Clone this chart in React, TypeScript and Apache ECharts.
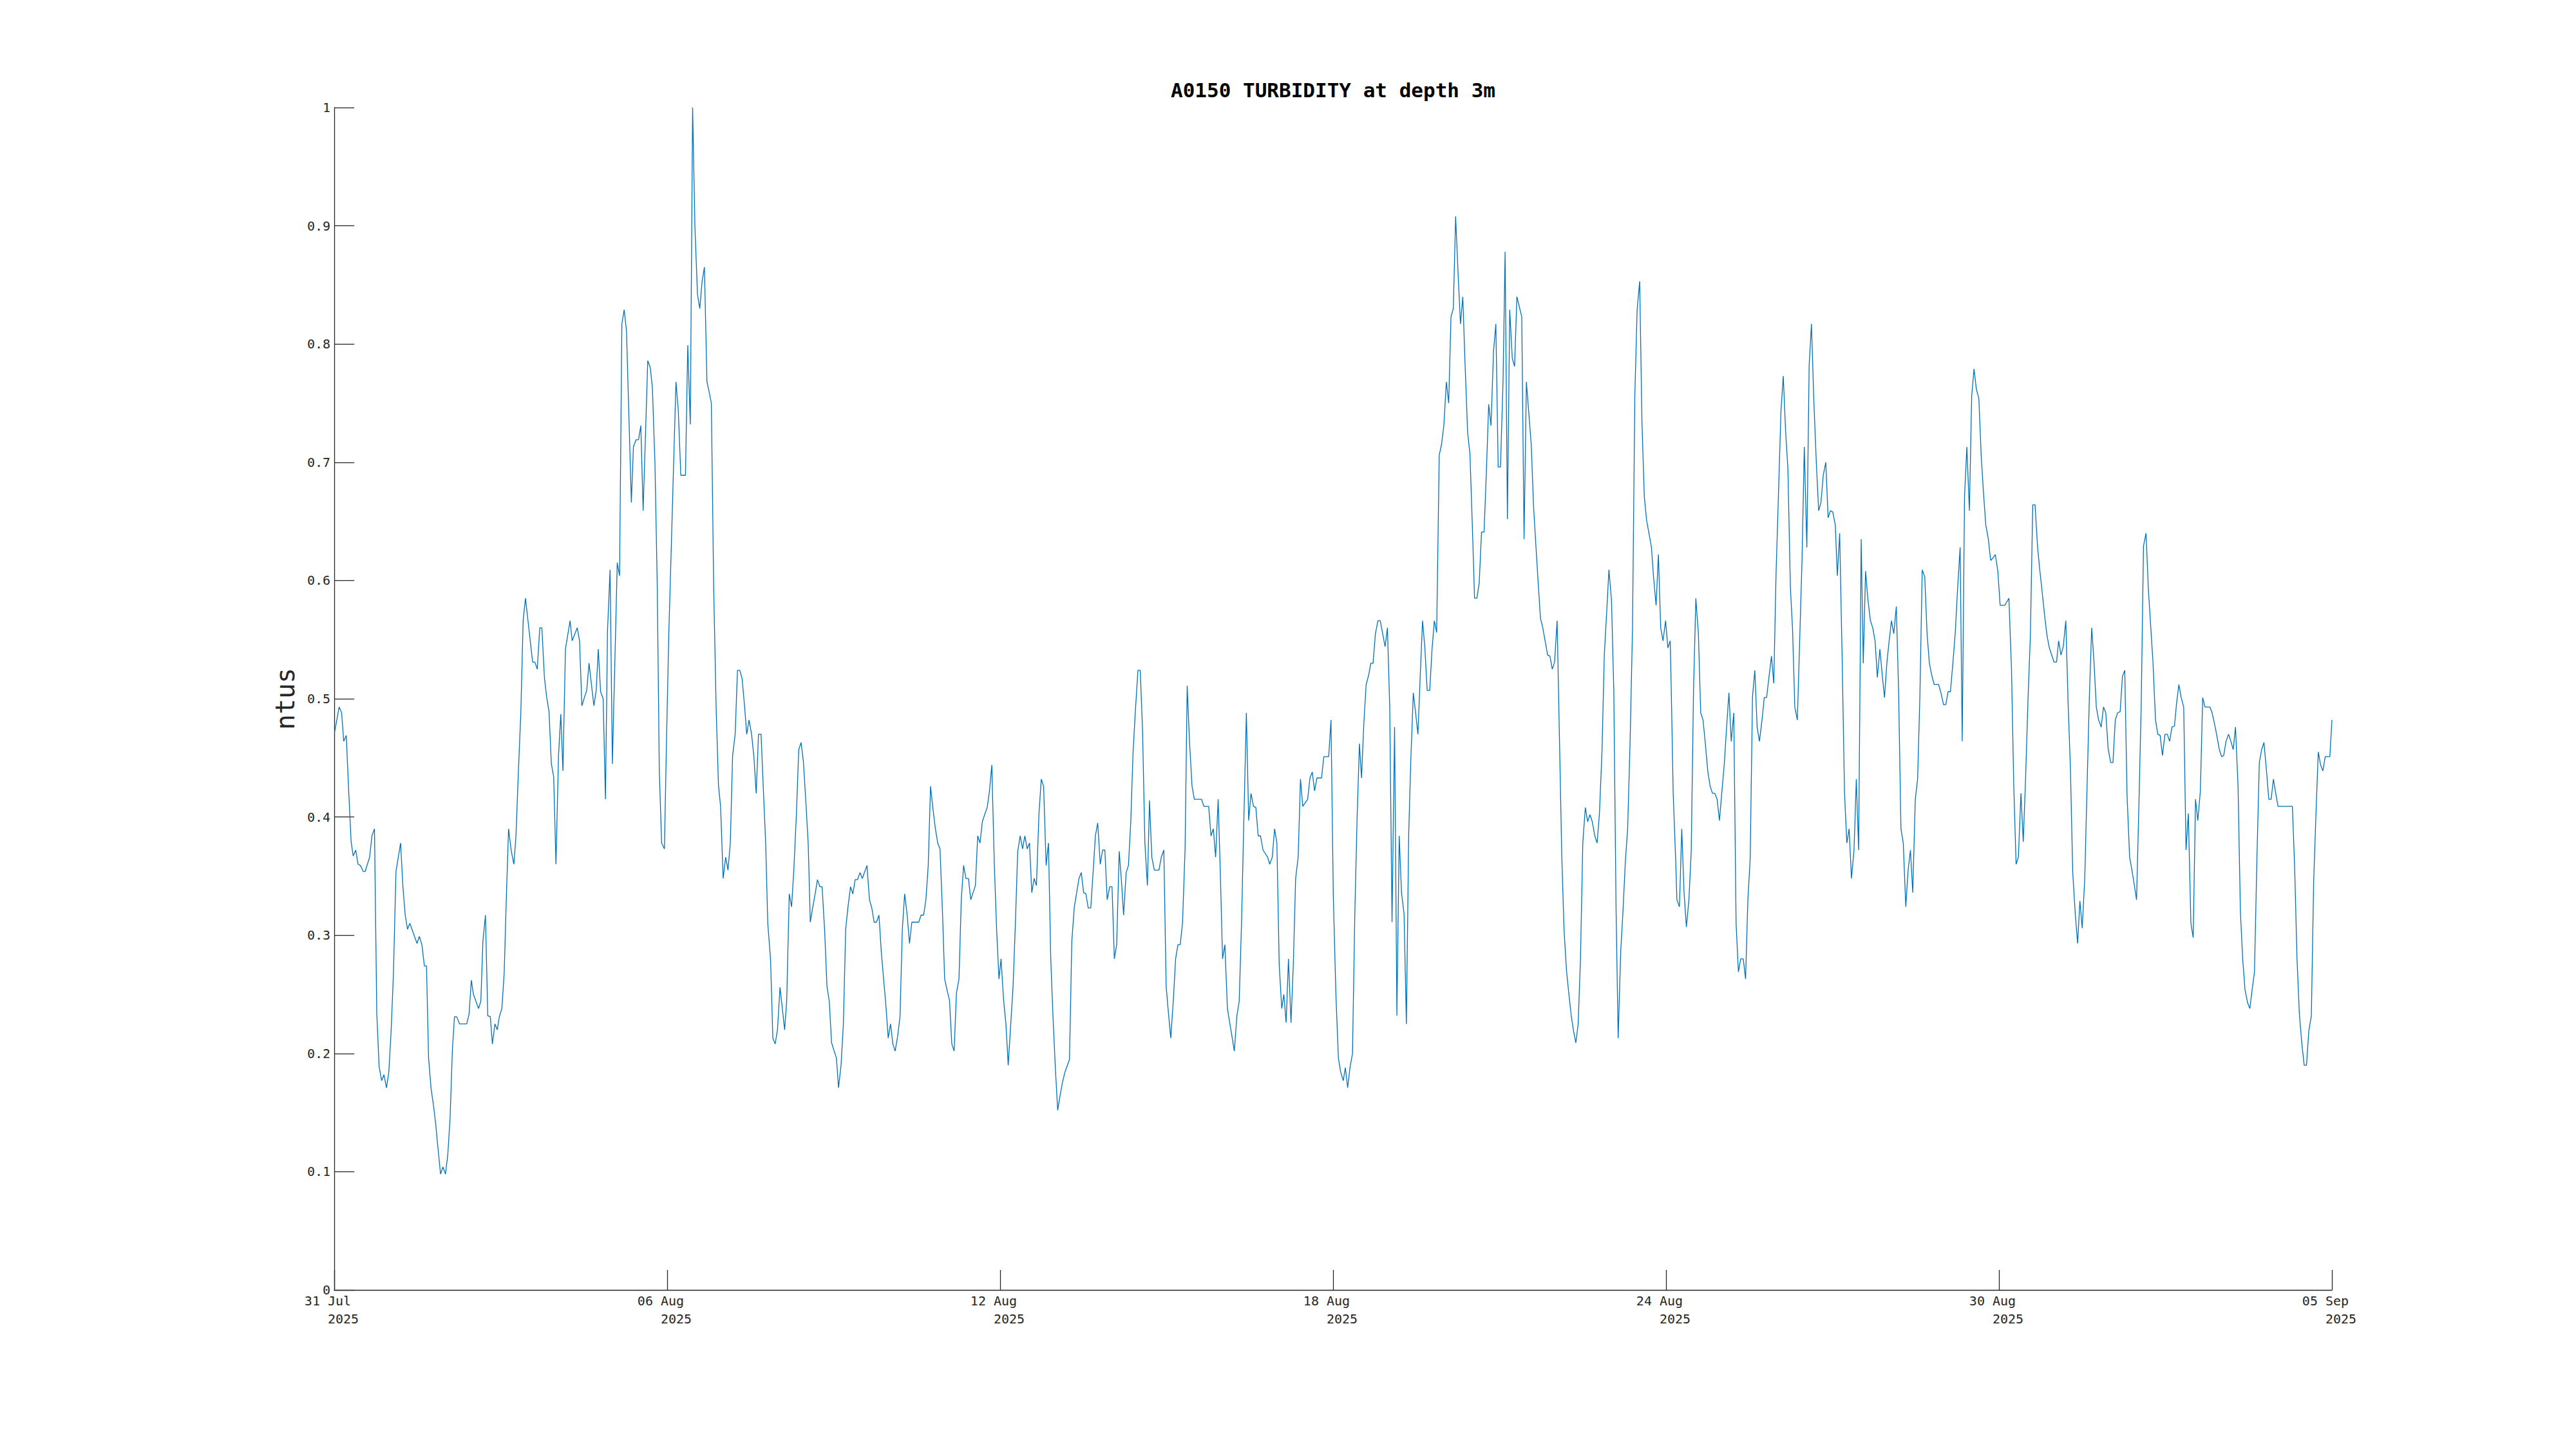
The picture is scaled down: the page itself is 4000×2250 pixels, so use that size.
import React, { useEffect, useRef } from "react";
import * as echarts from "echarts";

const TITLE = "A0150 TURBIDITY at depth 3m";
const Y_NAME = "ntus";
const X_TICK_DATES = ["31 Jul", "06 Aug", "12 Aug", "18 Aug", "24 Aug", "30 Aug", "05 Sep"];
const X_TICK_YEAR = "2025";
const Y_TICKS = [0, 0.1, 0.2, 0.3, 0.4, 0.5, 0.6, 0.7, 0.8, 0.9, 1];

// hours since 31 Jul 2025 00:00
const HOURS = [
  0.1, 2.1, 3.2, 4.1, 5.2, 6.3, 7.3, 8.2, 9.3, 10.3, 11.3, 12.5, 13.4, 15.3, 16.3, 17.4, 18.4, 19.4, 20.5, 21.5,
  22.6, 23.6, 24.6, 25.6, 26.7, 27.7, 28.7, 29.7, 30.7, 31.7, 32.7, 35.8, 36.8, 37.9, 39.0, 39.9, 40.8, 41.9, 43.0, 43.9,
  44.9, 46.0, 47.0, 48.1, 49.1, 50.1, 51.1, 52.0, 53.0, 54.2, 57.3, 58.3, 59.3, 60.2, 62.4, 63.4, 64.3, 65.4, 66.4, 67.5,
  68.4, 69.5, 70.5, 71.4, 72.5, 73.5, 74.5, 75.4, 76.6, 77.7, 78.6, 79.6, 80.7, 81.7, 82.7, 85.8, 86.8, 87.8, 88.9, 89.8,
  90.9, 91.9, 92.9, 93.9, 94.9, 95.9, 97.0, 98.0, 98.9, 100.0, 102.0, 102.9, 105.1, 106.1, 107.1, 108.2, 109.2, 110.2, 112.3, 113.3,
  114.2, 115.2, 116.3, 117.3, 118.2, 119.3, 120.3, 122.4, 123.4, 124.4, 125.4, 126.4, 128.5, 129.4, 130.5, 131.6, 132.6, 133.6, 135.6, 136.7,
  137.6, 138.7, 139.7, 140.6, 141.6, 142.8,
  143.7, 144.7, 145.8, 146.8, 147.8, 148.8, 149.9, 151.9, 152.9, 154.0, 155.0, 156.0, 157.1, 158.1, 159.1, 160.1, 161.2, 162.2, 163.1, 164.1,
  165.2, 166.2, 167.1, 168.2, 169.3, 170.3, 171.3, 172.3, 173.4, 174.4, 175.4, 176.4, 177.5, 178.4, 179.4, 180.5, 181.5, 182.5, 183.5, 184.6,
  185.6, 186.6, 187.5, 188.7, 189.7, 190.7, 191.7, 192.8, 193.8, 194.8, 195.7, 196.8, 197.8, 198.8, 199.9, 200.9, 201.9, 202.9, 204.0, 205.0,
  205.9, 206.9, 208.0, 209.0, 210.0, 211.0, 212.1, 213.1, 214.1, 215.1, 217.2, 218.1, 219.2, 220.2, 221.2, 222.2, 223.3, 224.3, 225.3, 226.3,
  227.4, 228.4, 230.4, 231.5, 232.5, 233.5, 234.5, 235.6, 236.6, 237.6, 238.5, 239.6, 240.6, 241.6, 242.6, 243.7, 244.7, 245.7, 246.7, 247.8,
  248.8, 249.8, 252.8, 253.8, 254.9, 255.9, 256.9, 257.9, 259.0, 260.0, 261.0, 262.0, 263.1, 264.0, 265.0, 266.1, 267.1, 268.1, 269.1, 270.2,
  271.2, 272.2, 273.2, 274.3, 275.3, 277.3, 278.3, 279.3, 280.3, 281.3, 282.4, 283.4, 284.4, 285.5, 286.5, 287.5, 288.4,
  289.5, 290.5, 291.5, 292.6, 293.6, 294.6, 295.6, 296.7, 297.7, 298.7, 299.7, 300.7, 301.7, 302.7, 303.7, 304.8, 305.8, 306.8, 307.9, 308.9,
  309.9, 310.8, 311.9, 312.9, 313.9, 314.9, 316.0, 318.0, 319.0, 320.1, 321.1, 322.1, 323.1, 324.1, 325.1, 326.1, 327.2, 328.2, 329.2, 330.2,
  331.3, 332.3, 333.3, 334.3, 335.4, 336.4, 337.4, 338.4, 339.5, 340.5, 341.4, 342.5, 343.5, 344.5, 345.5, 346.5, 347.6, 348.6, 349.6, 350.6,
  351.7, 352.6, 353.6, 354.7, 356.7, 357.7, 358.8, 359.8, 360.8, 361.8, 362.9, 363.9, 364.9, 365.9, 366.9, 368.0, 368.9, 369.9, 371.0, 372.0,
  375.1, 376.1, 378.2, 379.2, 380.2, 381.2, 382.3, 383.3, 384.2, 385.2, 386.3, 387.3, 388.3, 389.3, 390.4, 391.4, 392.4, 393.4, 394.5, 395.5,
  396.5, 397.6, 398.6, 399.6, 400.6, 401.7, 403.7, 404.6, 405.7, 406.7, 407.7, 408.7, 409.8, 410.7, 411.7, 412.7, 413.8, 414.8, 415.8, 416.9,
  417.9, 418.9, 421.0, 422.0, 423.0, 424.0, 425.0, 427.0, 428.0, 430.1, 431.1, 432.1, 433.2,
  434.3, 435.3, 436.4, 437.3, 438.3, 439.3, 440.4, 441.4, 442.4, 443.4, 444.3, 445.3, 446.3, 447.4, 448.3, 449.3, 450.3, 451.4, 452.4, 454.5,
  455.5, 456.5, 457.5, 458.6, 459.6, 460.6, 461.6, 462.7, 463.7, 464.7, 465.6, 466.7, 467.7, 468.7, 469.7, 470.7, 471.7, 472.7, 473.8, 474.8,
  475.8, 476.8, 477.9, 478.9, 479.9, 481.0, 482.0, 483.0, 484.0, 485.0, 486.1, 487.1, 488.1, 489.1, 490.2, 491.2, 492.2, 493.2, 494.2, 495.2,
  496.2, 497.3, 498.3, 499.3, 500.3, 501.4, 502.4, 503.4, 504.4, 505.5, 506.4, 507.4, 508.4, 509.5, 510.5, 511.5, 513.6, 514.6, 515.6, 516.6,
  517.7, 518.7, 519.7, 520.8, 521.7, 522.7, 523.7, 524.8, 525.8, 526.8, 527.8, 528.9, 529.9, 530.9, 531.9, 533.0, 534.0, 535.0, 536.0, 537.0,
  538.0, 539.0, 540.0, 541.1, 542.1, 543.1, 544.1, 545.2, 546.2, 547.2, 548.3, 549.3, 550.3, 551.3, 552.4, 553.4, 554.4, 555.3, 556.4, 557.4,
  558.4, 559.4, 560.5, 561.5, 562.5, 563.5, 564.6, 565.6, 566.6, 567.6, 568.7, 569.7, 570.6, 571.7, 572.7, 573.7, 574.7, 575.8, 576.8, 577.8,
  578.2, 579.1, 580.2, 580.7, 581.8, 582.8, 583.8, 584.8, 585.9, 586.9, 587.9, 588.9, 590.0, 591.0, 592.0, 593.0, 594.1, 595.1, 596.1, 597.1,
  598.1, 599.1, 600.1, 601.2, 602.2, 603.2, 604.2, 605.3, 606.3, 607.3, 608.3, 609.4, 610.4, 611.4, 612.4, 613.4, 614.4, 615.4, 616.4, 617.5,
  618.5, 619.5, 620.5, 621.6, 622.6, 623.6, 624.6, 625.7, 626.7, 627.7, 628.7, 629.8, 630.7, 631.7, 632.8, 633.8, 634.8, 635.8, 636.9, 637.9,
  638.9, 639.9, 641.0, 642.0, 643.0, 644.0, 645.1, 646.1, 647.1, 648.1, 649.2, 650.1, 651.1, 652.2, 653.2, 654.2, 655.2, 656.2, 657.3, 658.3,
  659.3, 660.4, 661.3, 662.3, 663.3, 664.4, 665.4, 666.4, 667.4, 668.5, 669.5, 670.5, 671.5, 672.5, 673.5, 674.5, 675.6, 676.6, 677.6, 678.6,
  679.7, 680.7, 681.7, 682.7, 683.8, 684.8, 685.8, 686.8, 687.9, 688.9, 689.9, 690.9, 692.0, 693.9, 694.9, 696.0, 697.0, 698.0, 699.0, 700.1,
  701.1, 702.1, 703.2, 704.1, 705.1, 706.1, 707.2, 708.2, 709.2, 710.2, 711.3, 712.3, 713.3, 714.3, 715.4, 716.4, 717.4, 718.4, 719.5, 720.5,
  722.5,
  724.3, 725.4, 726.4, 727.4, 728.4, 729.5, 730.5, 731.5, 732.5, 733.6, 734.6, 735.6, 736.7, 737.7, 738.7, 739.7, 740.8, 741.8, 742.8, 743.8,
  744.9, 745.8, 746.8, 747.8, 748.9, 749.9, 750.9, 751.9, 753.0, 754.0, 755.0, 756.0, 757.1, 758.1, 759.1, 760.1, 761.1, 762.1, 763.1, 764.2,
  765.2, 766.2, 767.2, 768.3, 769.3, 770.3, 771.3, 772.4, 773.4, 774.4, 775.4, 776.5, 777.5, 778.5, 779.5, 780.5, 781.5, 782.5, 783.6, 784.6,
  785.6, 786.6, 787.7, 788.7, 789.7, 790.7, 791.8, 792.8, 793.8, 794.8, 795.9, 796.8, 797.8, 798.8, 799.9, 800.9, 801.9, 803.0, 804.0, 805.0,
  806.0, 807.1, 808.1, 809.1, 811.2, 812.2, 813.2, 814.2, 815.3, 816.3, 817.2, 818.2, 819.3, 820.3, 821.3, 822.3, 823.4, 824.4, 825.4, 826.4,
  827.5, 828.5, 829.5, 830.5, 831.6, 832.6, 833.6, 834.6, 835.7, 836.7, 837.7, 838.7, 839.7, 840.7, 846.9, 847.9, 848.9, 849.9, 851.0, 852.0,
  853.0, 854.0, 855.1, 856.1, 857.1, 858.1, 859.1, 860.1, 861.1, 863.1, 864.0,
];

// turbidity (ntus)
const TURBIDITY = [
  0.471, 0.493, 0.488, 0.464, 0.469, 0.420, 0.379, 0.367, 0.372, 0.360, 0.359, 0.354, 0.354, 0.366, 0.384, 0.390, 0.234, 0.189, 0.177, 0.182,
  0.171, 0.184, 0.219, 0.267, 0.354, 0.366, 0.378, 0.341, 0.317, 0.305, 0.310, 0.293, 0.299, 0.292, 0.274, 0.274, 0.196, 0.170, 0.155, 0.140,
  0.119, 0.098, 0.104, 0.098, 0.114, 0.145, 0.203, 0.231, 0.231, 0.225, 0.225, 0.233, 0.262, 0.250, 0.238, 0.244, 0.295, 0.317, 0.232, 0.231,
  0.208, 0.225, 0.220, 0.231, 0.238, 0.268, 0.336, 0.390, 0.371, 0.360, 0.384, 0.436, 0.488, 0.566, 0.585, 0.531, 0.531, 0.525, 0.560, 0.560,
  0.518, 0.501, 0.489, 0.445, 0.434, 0.360, 0.452, 0.487, 0.439, 0.542, 0.566, 0.549, 0.560, 0.549, 0.494, 0.501, 0.507, 0.530, 0.494, 0.507,
  0.542, 0.506, 0.500, 0.415, 0.558, 0.609, 0.445, 0.615, 0.604, 0.817, 0.829, 0.811, 0.666, 0.713, 0.719, 0.719, 0.731, 0.659, 0.786, 0.780,
  0.763, 0.700, 0.596, 0.438, 0.378, 0.373,
  0.464, 0.555, 0.630, 0.700, 0.768, 0.744, 0.689, 0.689, 0.799, 0.732, 1.000, 0.899, 0.842, 0.830, 0.853, 0.865, 0.768, 0.759, 0.750, 0.595,
  0.490, 0.426, 0.409, 0.348, 0.366, 0.355, 0.378, 0.452, 0.470, 0.524, 0.524, 0.517, 0.493, 0.470, 0.482, 0.470, 0.451, 0.420, 0.470, 0.470,
  0.423, 0.378, 0.310, 0.280, 0.213, 0.208, 0.220, 0.256, 0.238, 0.220, 0.245, 0.335, 0.324, 0.356, 0.403, 0.457, 0.463, 0.447, 0.412, 0.377,
  0.311, 0.323, 0.335, 0.347, 0.341, 0.341, 0.304, 0.257, 0.244, 0.209, 0.196, 0.171, 0.190, 0.225, 0.305, 0.324, 0.341, 0.335, 0.347, 0.347,
  0.353, 0.348, 0.359, 0.330, 0.323, 0.311, 0.311, 0.317, 0.286, 0.263, 0.243, 0.213, 0.225, 0.208, 0.202, 0.215, 0.231, 0.305, 0.335, 0.317,
  0.293, 0.311, 0.311, 0.317, 0.317, 0.330, 0.359, 0.426, 0.406, 0.390, 0.378, 0.373, 0.318, 0.263, 0.254, 0.245, 0.208, 0.202, 0.251, 0.263,
  0.330, 0.359, 0.348, 0.348, 0.330, 0.342, 0.384, 0.378, 0.396, 0.402, 0.408, 0.422, 0.444, 0.359, 0.304, 0.263, 0.280,
  0.245, 0.225, 0.190, 0.225, 0.257, 0.310, 0.371, 0.384, 0.373, 0.384, 0.373, 0.378, 0.336, 0.348, 0.342, 0.403, 0.432, 0.426, 0.359, 0.378,
  0.280, 0.234, 0.187, 0.152, 0.164, 0.175, 0.184, 0.195, 0.295, 0.324, 0.336, 0.348, 0.353, 0.336, 0.335, 0.323, 0.323, 0.353, 0.384, 0.395,
  0.360, 0.372, 0.372, 0.330, 0.341, 0.341, 0.280, 0.292, 0.371, 0.345, 0.317, 0.353, 0.359, 0.396, 0.455, 0.490, 0.524, 0.524, 0.473, 0.378,
  0.342, 0.414, 0.366, 0.355, 0.355, 0.366, 0.372, 0.257, 0.234, 0.213, 0.245, 0.280, 0.292, 0.292, 0.311, 0.374, 0.511, 0.464, 0.426, 0.415,
  0.415, 0.409, 0.409, 0.384, 0.390, 0.366, 0.415, 0.348, 0.280, 0.292, 0.238, 0.226, 0.214, 0.202, 0.232, 0.244, 0.310, 0.397, 0.488, 0.397,
  0.420, 0.409, 0.408, 0.384, 0.384, 0.372, 0.366, 0.360, 0.366, 0.390, 0.378, 0.275, 0.238, 0.250, 0.226, 0.280, 0.226, 0.275, 0.348, 0.366,
  0.432, 0.409, 0.415, 0.433, 0.438, 0.422, 0.433, 0.433, 0.451, 0.451, 0.482, 0.333, 0.251,
  0.196, 0.184, 0.177, 0.188, 0.171, 0.188, 0.200, 0.318, 0.400, 0.462, 0.433, 0.479, 0.512, 0.520, 0.530, 0.530, 0.555, 0.566, 0.566, 0.544,
  0.560, 0.493, 0.311, 0.476, 0.232, 0.384, 0.336, 0.318, 0.225, 0.385, 0.447, 0.505, 0.488, 0.470, 0.520, 0.566, 0.543, 0.507, 0.507, 0.542,
  0.566, 0.556, 0.706, 0.715, 0.731, 0.768, 0.750, 0.823, 0.830, 0.908, 0.858, 0.817, 0.840, 0.782, 0.725, 0.707, 0.648, 0.585, 0.585, 0.598,
  0.641, 0.641, 0.692, 0.749, 0.731, 0.794, 0.817, 0.696, 0.696, 0.768, 0.878, 0.652, 0.829, 0.788, 0.781, 0.840, 0.823, 0.635, 0.768, 0.743,
  0.715, 0.663, 0.630, 0.595, 0.568, 0.560, 0.549, 0.537, 0.536, 0.525, 0.531, 0.566, 0.467, 0.368, 0.304, 0.269, 0.250, 0.232, 0.219, 0.209,
  0.225, 0.280, 0.378, 0.408, 0.396, 0.402, 0.396, 0.384, 0.378, 0.403, 0.455, 0.537, 0.572, 0.609, 0.584, 0.508, 0.321, 0.213, 0.286, 0.321,
  0.362, 0.390, 0.467, 0.560, 0.756, 0.829, 0.853, 0.733, 0.671, 0.651, 0.639, 0.628, 0.603, 0.579, 0.622, 0.560, 0.549, 0.566, 0.543, 0.549,
  0.514, 0.420, 0.362, 0.330, 0.324, 0.390, 0.336, 0.307, 0.330, 0.371, 0.508, 0.585, 0.555, 0.488, 0.482, 0.462, 0.438, 0.426, 0.420, 0.420,
  0.415, 0.397, 0.420, 0.445, 0.476, 0.505, 0.464, 0.488, 0.310, 0.269, 0.280, 0.280, 0.263, 0.330, 0.365, 0.502, 0.524, 0.476, 0.464, 0.482,
  0.501, 0.501, 0.518, 0.536, 0.513, 0.607, 0.671, 0.743, 0.773, 0.727, 0.695, 0.593, 0.560, 0.493, 0.482, 0.549, 0.616, 0.713, 0.628, 0.782,
  0.817, 0.753, 0.700, 0.659, 0.666, 0.689, 0.700, 0.653, 0.659, 0.658, 0.647, 0.604, 0.640, 0.531, 0.420, 0.378, 0.390, 0.348, 0.372, 0.432,
  0.372, 0.635, 0.530, 0.608, 0.584, 0.566, 0.560, 0.549, 0.518, 0.542, 0.520, 0.501, 0.530, 0.549, 0.566, 0.555, 0.578, 0.505, 0.390, 0.378,
  0.324, 0.355, 0.372, 0.336, 0.415, 0.432, 0.502, 0.609, 0.603, 0.555, 0.530, 0.520, 0.512, 0.512, 0.505, 0.495, 0.495, 0.506, 0.506, 0.531,
  0.556, 0.593, 0.628, 0.464, 0.671, 0.713, 0.659, 0.756, 0.779, 0.762, 0.754, 0.706, 0.674, 0.647, 0.635, 0.617, 0.619, 0.622, 0.608, 0.579,
  0.579,
  0.585, 0.526, 0.426, 0.360, 0.366, 0.420, 0.379, 0.432, 0.496, 0.555, 0.664, 0.664, 0.628, 0.608, 0.590, 0.571, 0.553, 0.543, 0.537, 0.531,
  0.531, 0.549, 0.537, 0.544, 0.566, 0.496, 0.441, 0.353, 0.318, 0.293, 0.329, 0.306, 0.348, 0.426, 0.502, 0.560, 0.531, 0.493, 0.482, 0.476,
  0.493, 0.488, 0.458, 0.446, 0.446, 0.482, 0.488, 0.489, 0.519, 0.524, 0.418, 0.366, 0.355, 0.343, 0.330, 0.409, 0.493, 0.629, 0.640, 0.593,
  0.562, 0.531, 0.482, 0.470, 0.469, 0.452, 0.470, 0.470, 0.464, 0.476, 0.477, 0.496, 0.512, 0.501, 0.493, 0.372, 0.403, 0.310, 0.298, 0.415,
  0.397, 0.422, 0.501, 0.493, 0.493, 0.488, 0.479, 0.469, 0.457, 0.451, 0.452, 0.464, 0.470, 0.464, 0.457, 0.476, 0.426, 0.321, 0.280, 0.254,
  0.243, 0.238, 0.254, 0.269, 0.368, 0.446, 0.457, 0.463, 0.439, 0.415, 0.415, 0.432, 0.420, 0.409, 0.409, 0.356, 0.280, 0.234, 0.208, 0.190,
  0.190, 0.219, 0.232, 0.345, 0.403, 0.455, 0.444, 0.439, 0.451, 0.451, 0.482,
];

const AXIS_COLOR = "#262626";
const FONT = "'DejaVu Sans Mono', monospace";

export default function App() {
  const ref = useRef<HTMLDivElement>(null);
  useEffect(() => {
    if (!ref.current) return;
    const chart = echarts.init(ref.current, null, { renderer: "svg" });
    const data = HOURS.map((h, i) => [h / 24, TURBIDITY[i]]);
    chart.setOption({
      animation: false,
      backgroundColor: "#ffffff",
      title: {
        text: TITLE,
        left: 2065,
        top: 119,
        textAlign: "center",
        textStyle: { fontFamily: FONT, fontSize: 31, fontWeight: "bold", color: "#000000" },
      },
      grid: { left: 519, right: 379, top: 167, bottom: 247, containLabel: false },
      xAxis: {
        type: "value",
        min: 0,
        max: 36,
        interval: 6,
        axisLine: { show: true, lineStyle: { color: AXIS_COLOR, width: 1.3 } },
        axisTick: { show: true, inside: true, length: 31, lineStyle: { color: AXIS_COLOR, width: 1.3 } },
        splitLine: { show: false },
        axisLabel: {
          margin: 3,
          padding: [0, 8, 0, 0],
          fontFamily: FONT,
          fontSize: 20,
          lineHeight: 28,
          color: AXIS_COLOR,
          formatter: (v: number) => {
            const i = Math.round(v / 6);
            return `${X_TICK_DATES[i] ?? ""} \n   ${X_TICK_YEAR}`;
          },
        },
      },
      yAxis: {
        type: "value",
        min: Y_TICKS[0],
        max: Y_TICKS[Y_TICKS.length - 1],
        interval: 0.1,
        name: Y_NAME,
        nameLocation: "middle",
        nameRotate: 90,
        nameGap: 56,
        nameTextStyle: { fontFamily: FONT, fontSize: 40, color: AXIS_COLOR },
        axisLine: { show: true, lineStyle: { color: AXIS_COLOR, width: 1.3 } },
        axisTick: { show: true, inside: true, length: 31, lineStyle: { color: AXIS_COLOR, width: 1.3 } },
        splitLine: { show: false },
        axisLabel: {
          margin: 6,
          fontFamily: FONT,
          fontSize: 20,
          color: AXIS_COLOR,
          formatter: (v: number) => String(Number(v.toFixed(1))),
        },
      },
      series: [
        {
          type: "line",
          data,
          showSymbol: false,
          symbol: "none",
          lineStyle: { color: "#0072BD", width: 1.3 },
          itemStyle: { color: "#0072BD" },
        },
      ],
    });
    return () => chart.dispose();
  }, []);
  return (
    <div
      ref={ref}
      style={{ position: "fixed", left: 0, top: 0, width: 4000, height: 2250, background: "#ffffff" }}
    />
  );
}
